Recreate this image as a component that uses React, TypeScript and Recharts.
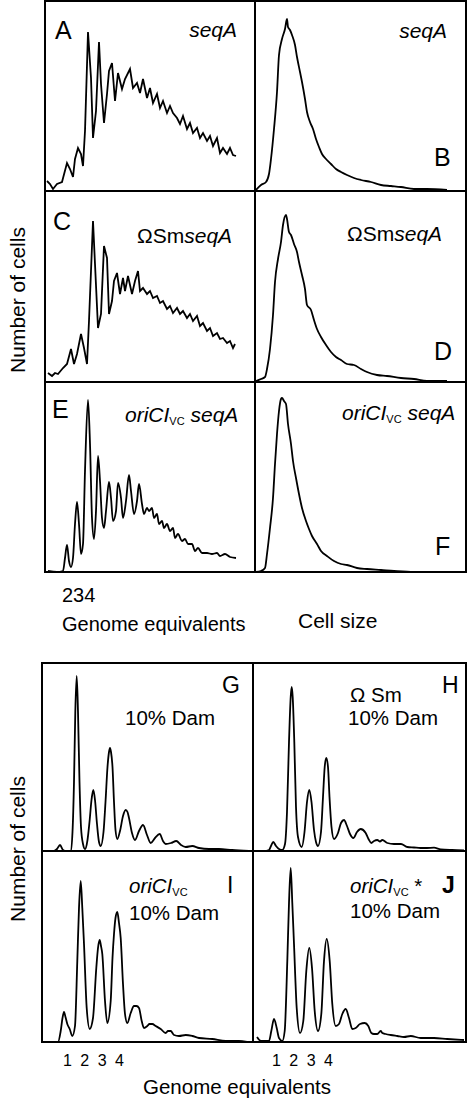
import React from 'react';
import { LineChart, Line, XAxis, YAxis } from 'recharts';

type Pt = [number, number];

// [channel, count] pairs, per panel
const PANEL_A: Pt[] = [[3,11],[6,8],[9,3],[13,8],[18,10],[23,29],[26,23],[29,15],[31,33],[34,44],[37,38],[39,26],[41,61],[44,160],[47,114],[49,54],[52,81],[55,150],[57,108],[60,69],[63,98],[65,121],[68,129],[71,91],[74,119],[78,103],[81,113],[86,123],[89,104],[93,109],[96,99],[99,113],[103,94],[106,104],[109,89],[113,98],[116,84],[119,91],[123,79],[126,86],[129,79],[133,74],[136,68],[139,76],[143,63],[146,69],[149,59],[153,64],[156,54],[159,59],[163,51],[166,56],[169,46],[173,54],[176,39],[179,44],[183,38],[186,44],[189,37],[192,36]];
const PANEL_B: Pt[] = [[2,2],[7,7],[12,10],[15,18],[17,33],[20,63],[23,100],[25,137],[28,153],[31,163],[33,173],[34,165],[36,162],[38,157],[41,147],[43,135],[46,120],[48,110],[51,93],[53,80],[56,70],[59,63],[62,53],[65,45],[68,38],[72,33],[77,28],[82,23],[87,20],[93,17],[100,14],[107,12],[117,10],[127,7],[137,6],[147,5],[160,3],[173,3],[193,2]];
const PANEL_C: Pt[] = [[4,10],[8,7],[11,10],[14,9],[19,15],[23,19],[27,34],[30,19],[33,29],[37,49],[40,35],[43,19],[45,62],[49,162],[51,119],[54,55],[57,69],[60,137],[63,125],[65,69],[68,82],[70,102],[73,110],[76,89],[79,105],[81,92],[84,107],[88,89],[91,102],[94,112],[96,92],[99,95],[103,89],[106,92],[109,85],[113,87],[116,80],[119,82],[123,74],[126,77],[129,70],[133,75],[136,69],[139,72],[143,65],[146,69],[149,62],[153,67],[156,57],[159,60],[163,52],[166,55],[169,47],[173,50],[176,44],[179,45],[183,40],[186,42],[189,35],[191,39]];
const PANEL_D: Pt[] = [[2,2],[7,4],[11,6],[13,14],[16,34],[19,68],[21,101],[24,124],[27,141],[29,158],[32,168],[33,164],[35,151],[37,148],[40,139],[43,131],[45,121],[48,108],[51,94],[53,78],[57,73],[60,63],[63,54],[67,46],[72,38],[77,31],[82,26],[87,23],[93,19],[100,18],[107,14],[113,11],[123,8],[133,7],[147,5],[160,4],[173,2],[193,2]];
const PANEL_E: Pt[] = [[4,2],[13,1],[19,2],[21,15],[23,28],[25,12],[27,6],[29,15],[31,49],[33,71],[35,49],[37,19],[39,29],[41,102],[44,173],[46,129],[48,55],[50,34],[52,62],[54,117],[56,92],[58,55],[60,45],[62,62],[65,91],[67,75],[69,52],[72,62],[74,90],[77,75],[79,55],[82,72],[85,98],[87,82],[90,59],[93,72],[95,89],[98,69],[100,59],[103,65],[105,62],[108,65],[110,55],[113,59],[115,49],[118,52],[120,45],[123,49],[126,42],[129,45],[131,35],[134,39],[138,32],[141,34],[144,29],[148,29],[151,22],[154,25],[158,20],[163,20],[168,19],[173,20],[176,17],[181,19],[186,16],[192,15]];
const PANEL_F: Pt[] = [[2,1],[7,2],[11,5],[13,19],[16,45],[19,75],[21,109],[23,139],[25,162],[27,174],[28,175],[30,172],[32,169],[34,149],[37,129],[39,112],[42,95],[45,79],[48,65],[52,52],[55,44],[58,37],[63,29],[67,22],[73,17],[80,12],[87,9],[93,8],[103,5],[113,4],[127,3],[140,2],[160,1],[180,1]];
const PANEL_G: Pt[] = [[1,0.5],[13,1],[16,3],[19,7],[22,2],[26,0.5],[29.7,1],[31.5,20],[33,70],[34.3,140],[35.7,176],[37,140],[38.5,70],[40,25],[42,8],[44,3],[46.5,12],[48.5,30],[50.5,52],[52.3,62],[54,52],[56,28],[58,10],[59.7,6],[62.5,20],[64.5,50],[66.5,85],[68,100],[69,104],[70,100],[71.5,85],[73,50],[74.5,22],[76.3,13],[79,21],[82,36],[84.7,42],[86.5,40],[88,34],[91,19],[94,12],[98,21],[102,27],[106,17],[109.7,9],[114,14],[118.7,18],[122,11],[124.7,8],[130,9],[135.3,11],[140,7],[144.7,5],[151.3,6],[158,4],[168,3],[178,3],[191,2],[208,1]];
const PANEL_H: Pt[] = [[1,1],[12,1],[17,2],[19,6],[21.3,10],[24,6],[27,3],[30.3,2],[33,8],[35,40],[37,110],[38.7,155],[39.7,165],[40.7,155],[42.3,110],[44,45],[46,15],[49.7,5],[52.5,20],[55,50],[57.3,62],[59.5,50],[62,22],[64,10],[66,6],[69,20],[71,55],[72.7,85],[74.3,94],[76,85],[77.5,55],[79.5,25],[82,13],[86,19],[89,29],[92,32],[95,26],[98,18],[101.3,14],[105,20],[108.7,23],[113.7,19],[116.5,13],[119.3,9],[122,11],[125.3,12],[128,10.5],[130.3,12],[135.3,9],[142,8],[149,8],[155.3,5],[162,4.5],[168.7,4],[175,4],[182,4.3],[188.7,2.7],[200,2],[212,1.7]];
const PANEL_I: Pt[] = [[5,1],[17,1],[19.7,12],[21.5,25],[23,31],[24.5,26],[26.3,19],[28.7,14],[31.3,7],[34,17],[36.3,82],[38,135],[39.7,162],[41.3,135],[43,99],[45.7,35],[48.7,14],[52,25],[55.3,75],[57,95],[58.7,103],[60,97],[61.3,89],[64,42],[66.3,20],[69.7,42],[71.5,85],[73,109],[74.5,125],[76.3,131],[78,120],[79.7,105],[82,59],[84,29],[86.3,20],[89.7,30],[93,37],[95.5,37],[98,35],[100.7,22],[103,15],[106.3,17],[108.5,19],[111.3,19],[114.7,17],[119.7,14],[124.7,10],[127,12],[129.7,12],[133,8],[138,7],[144.7,8],[151.3,7],[158,5],[171.3,4],[184.7,2],[198,2],[206,1]];
const PANEL_J: Pt[] = [[5,6],[9,2],[17,2],[19.3,12],[22,24],[24.7,15],[27,5],[30.3,2],[32.7,12],[35.3,82],[37,140],[38.7,175],[40.3,140],[42,99],[44.7,35],[48,10],[51.3,22],[54.3,72],[57.3,95],[60,75],[62.7,32],[66,12],[69.3,29],[72,82],[74.7,104],[77.7,82],[80.3,39],[83.7,17],[87,19],[90.3,29],[93.7,34],[97,25],[100.3,14],[103.7,15],[108,19],[112.7,20],[116.3,17],[119.3,10],[122,9],[125.3,9],[128.7,12],[130.3,10],[133.7,9],[138.7,8],[145.3,7],[152,6],[158.7,7],[168.7,5],[182,5],[195.3,4],[212,3]];

const TOP_TICKS = '234';
const BOTTOM_TICKS = '1 2 3 4';
const X_TITLE = 'Genome equivalents';
const X_TITLE_SIZE = 'Cell size';
const Y_TITLE = 'Number of cells';

const FONT = '"Liberation Sans", Arial, Helvetica, sans-serif';

function Panel({ left, top, width, height, pts, curve = 'monotone' }: { left: number; top: number; width: number; height: number; pts: Pt[]; curve?: 'monotone' | 'linear' }) {
  const data = pts.map(([x, y]) => ({ x, y }));
  return (
    <div style={{ position: 'absolute', left, top, width, height }}>
      <LineChart width={width} height={height} data={data} margin={{ top: 0, right: 0, bottom: 0, left: 0 }}>
        <XAxis dataKey="x" type="number" domain={[0, width]} hide />
        <YAxis type="number" domain={[0, height]} hide />
        <Line dataKey="y" type={curve} stroke="#000" strokeWidth={1.8} dot={false} isAnimationActive={false} />
      </LineChart>
      <div style={{ position: 'absolute', left: 0, top: 0, width, height, border: '2px solid #000', boxSizing: 'border-box', pointerEvents: 'none' }} />
    </div>
  );
}

function OriC({ x, y, star }: { x: number; y: number; star?: boolean }) {
  return (
    <text x={x} y={y} fontSize={20.5}>
      <tspan fontStyle="italic">oriCI</tspan>
      <tspan fontSize={11} dy={3}>VC</tspan>
      <tspan dy={-3}>{star ? ' *' : ''}</tspan>
    </text>
  );
}

export default function App() {
  return (
    <div style={{ position: 'absolute', left: 0, top: 0, width: 471, height: 1098, background: '#fff', fontFamily: FONT }}>
      <Panel left={44} top={0} width={212} height={192} pts={PANEL_A} curve="linear" />
      <Panel left={254} top={0} width={213} height={192} pts={PANEL_B} />
      <Panel left={44} top={190} width={212} height={193} pts={PANEL_C} curve="linear" />
      <Panel left={254} top={190} width={213} height={193} pts={PANEL_D} />
      <Panel left={44} top={381} width={212} height={192} pts={PANEL_E} />
      <Panel left={254} top={381} width={213} height={192} pts={PANEL_F} />
      <Panel left={41} top={662} width={213} height={190} pts={PANEL_G} />
      <Panel left={252} top={662} width={215} height={190} pts={PANEL_H} />
      <Panel left={41} top={850} width={213} height={193} pts={PANEL_I} />
      <Panel left={252} top={850} width={215} height={193} pts={PANEL_J} />
      <svg width={471} height={1098} style={{ position: 'absolute', left: 0, top: 0, pointerEvents: 'none' }} fontFamily={FONT} fill="#000">
        <text x={55} y={39} fontSize={25}>A</text>
        <text x={237} y={37} fontSize={21} fontStyle="italic" textAnchor="end">seqA</text>
        <text x={447} y={38} fontSize={21} fontStyle="italic" textAnchor="end">seqA</text>
        <text x={434} y={166} fontSize={25}>B</text>
        <text x={53} y={230} fontSize={25}>C</text>
        <text x={137} y={243} fontSize={21}><tspan>ΩSm</tspan><tspan fontStyle="italic">seqA</tspan></text>
        <text x={347} y={241} fontSize={21}><tspan>ΩSm</tspan><tspan fontStyle="italic">seqA</tspan></text>
        <text x={434} y={360} fontSize={25}>D</text>
        <text x={52} y={418} fontSize={25}>E</text>
        <text x={125} y={422} fontSize={21}>
          <tspan fontStyle="italic">oriCI</tspan><tspan fontSize={11} dy={3}>VC</tspan><tspan dy={-3} fontStyle="italic"> seqA</tspan>
        </text>
        <text x={342} y={420} fontSize={21}>
          <tspan fontStyle="italic">oriCI</tspan><tspan fontSize={11} dy={3}>VC</tspan><tspan dy={-3} fontStyle="italic"> seqA</tspan>
        </text>
        <text x={435} y={555} fontSize={25}>F</text>
        <text x={62} y={602} fontSize={20}>{TOP_TICKS}</text>
        <text x={62} y={631} fontSize={20}>{X_TITLE}</text>
        <text x={298} y={628} fontSize={21}>{X_TITLE_SIZE}</text>
        <text x={25} y={300} fontSize={21} textAnchor="middle" transform="rotate(-90 25 300)">{Y_TITLE}</text>

        <text x={222} y={693} fontSize={23}>G</text>
        <text x={125} y={725} fontSize={20.5}>10% Dam</text>
        <text x={442} y={693} fontSize={23}>H</text>
        <text x={350} y={702} fontSize={20.5}>Ω Sm</text>
        <text x={348} y={725} fontSize={20.5}>10% Dam</text>
        <OriC x={129} y={893} />
        <text x={129} y={920} fontSize={20.5}>10% Dam</text>
        <text x={227} y={893} fontSize={23}>I</text>
        <OriC x={350} y={893} star />
        <text x={442} y={893} fontSize={23} fontWeight="bold">J</text>
        <text x={350} y={918} fontSize={20.5}>10% Dam</text>
        <text x={63} y={1066} fontSize={16} letterSpacing={2}>{BOTTOM_TICKS}</text>
        <text x={272} y={1066} fontSize={16} letterSpacing={2}>{BOTTOM_TICKS}</text>
        <text x={143} y={1094} fontSize={20.5}>{X_TITLE}</text>
        <text x={25} y={849} fontSize={21} textAnchor="middle" transform="rotate(-90 25 849)">{Y_TITLE}</text>
      </svg>
    </div>
  );
}
